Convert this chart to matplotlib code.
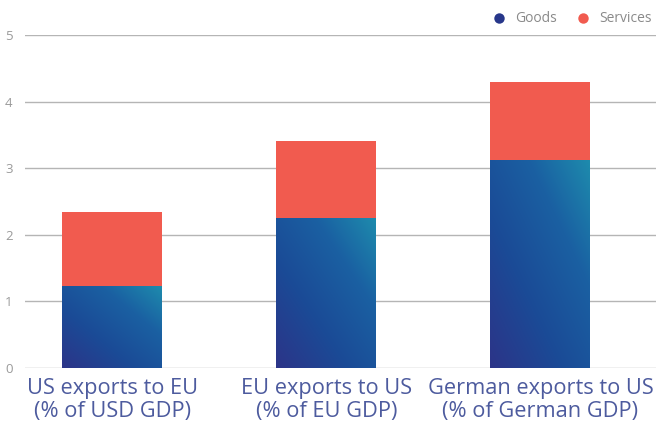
import numpy as np
import matplotlib.pyplot as plt
from matplotlib.colors import LinearSegmentedColormap
from matplotlib.lines import Line2D

# Data
categories = ["US exports to EU\n(% of USD GDP)",
              "EU exports to US\n(% of EU GDP)",
              "German exports to US\n(% of German GDP)"]
goods = [1.23, 2.25, 3.12]
services = [1.11, 1.16, 1.17]

plt.rcParams['font.family'] = ['Open Sans', 'DejaVu Sans']

goods_cmap = LinearSegmentedColormap.from_list(
    "goods", [(0, "#2c3488"), (0.35, "#1b4a96"), (0.7, "#1a60a2"), (1, "#1e8bad")])
services_color = "#f15b4f"
label_color = "#4d5b9e"

fig = plt.figure(figsize=(6.56, 4.24), dpi=100)
ax = fig.add_axes([25 / 656, 1 - 368 / 424, 1 - 25 / 656, (368 - 35) / 424])

x = np.arange(len(categories))
width = 0.467

bars = ax.bar(x, goods, width, color="none", zorder=3)
ax.bar(x, services, width, bottom=goods, color=services_color, zorder=3)

# diagonal gradient inside each goods bar
gx, gy = np.meshgrid(np.linspace(0, 1, 200), np.linspace(0, 1, 200))
grad = (gx + gy) / 2
for b in bars:
    x0, y0 = b.get_x(), b.get_y()
    im = ax.imshow(grad, cmap=goods_cmap, origin="lower", aspect="auto",
                   extent=(x0, x0 + b.get_width(), y0, y0 + b.get_height()),
                   zorder=3)
    im.set_clip_path(b)

ax.set_xlim(-0.407, 2.54)
ax.set_ylim(0, 5)
ax.set_yticks(range(6))
ax.set_xticks(x)
ax.set_xticklabels(categories, fontsize=15.7, color=label_color, linespacing=1.15)
ax.tick_params(axis="x", length=0, pad=7)
ax.tick_params(axis="y", length=0, pad=9, labelsize=9.5, labelcolor="#9a9a9a")
ax.grid(axis="y", color="#b5b5b5", linewidth=1, zorder=0)
for s in ax.spines.values():
    s.set_visible(False)
ax.set_axisbelow(True)

handles = [Line2D([], [], marker="o", linestyle="", markersize=7.5,
                  markerfacecolor="#27378a", markeredgecolor="none"),
           Line2D([], [], marker="o", linestyle="", markersize=7.5,
                  markerfacecolor=services_color, markeredgecolor="none")]
fig.legend(handles, ["Goods", "Services"], loc="center right",
           bbox_to_anchor=(1.012, 1 - 19 / 424), ncol=2, frameon=False,
           fontsize=10, labelcolor="#8a8a8a", handletextpad=0.15,
           columnspacing=0.9)

fig.savefig("out.png", dpi=100)
